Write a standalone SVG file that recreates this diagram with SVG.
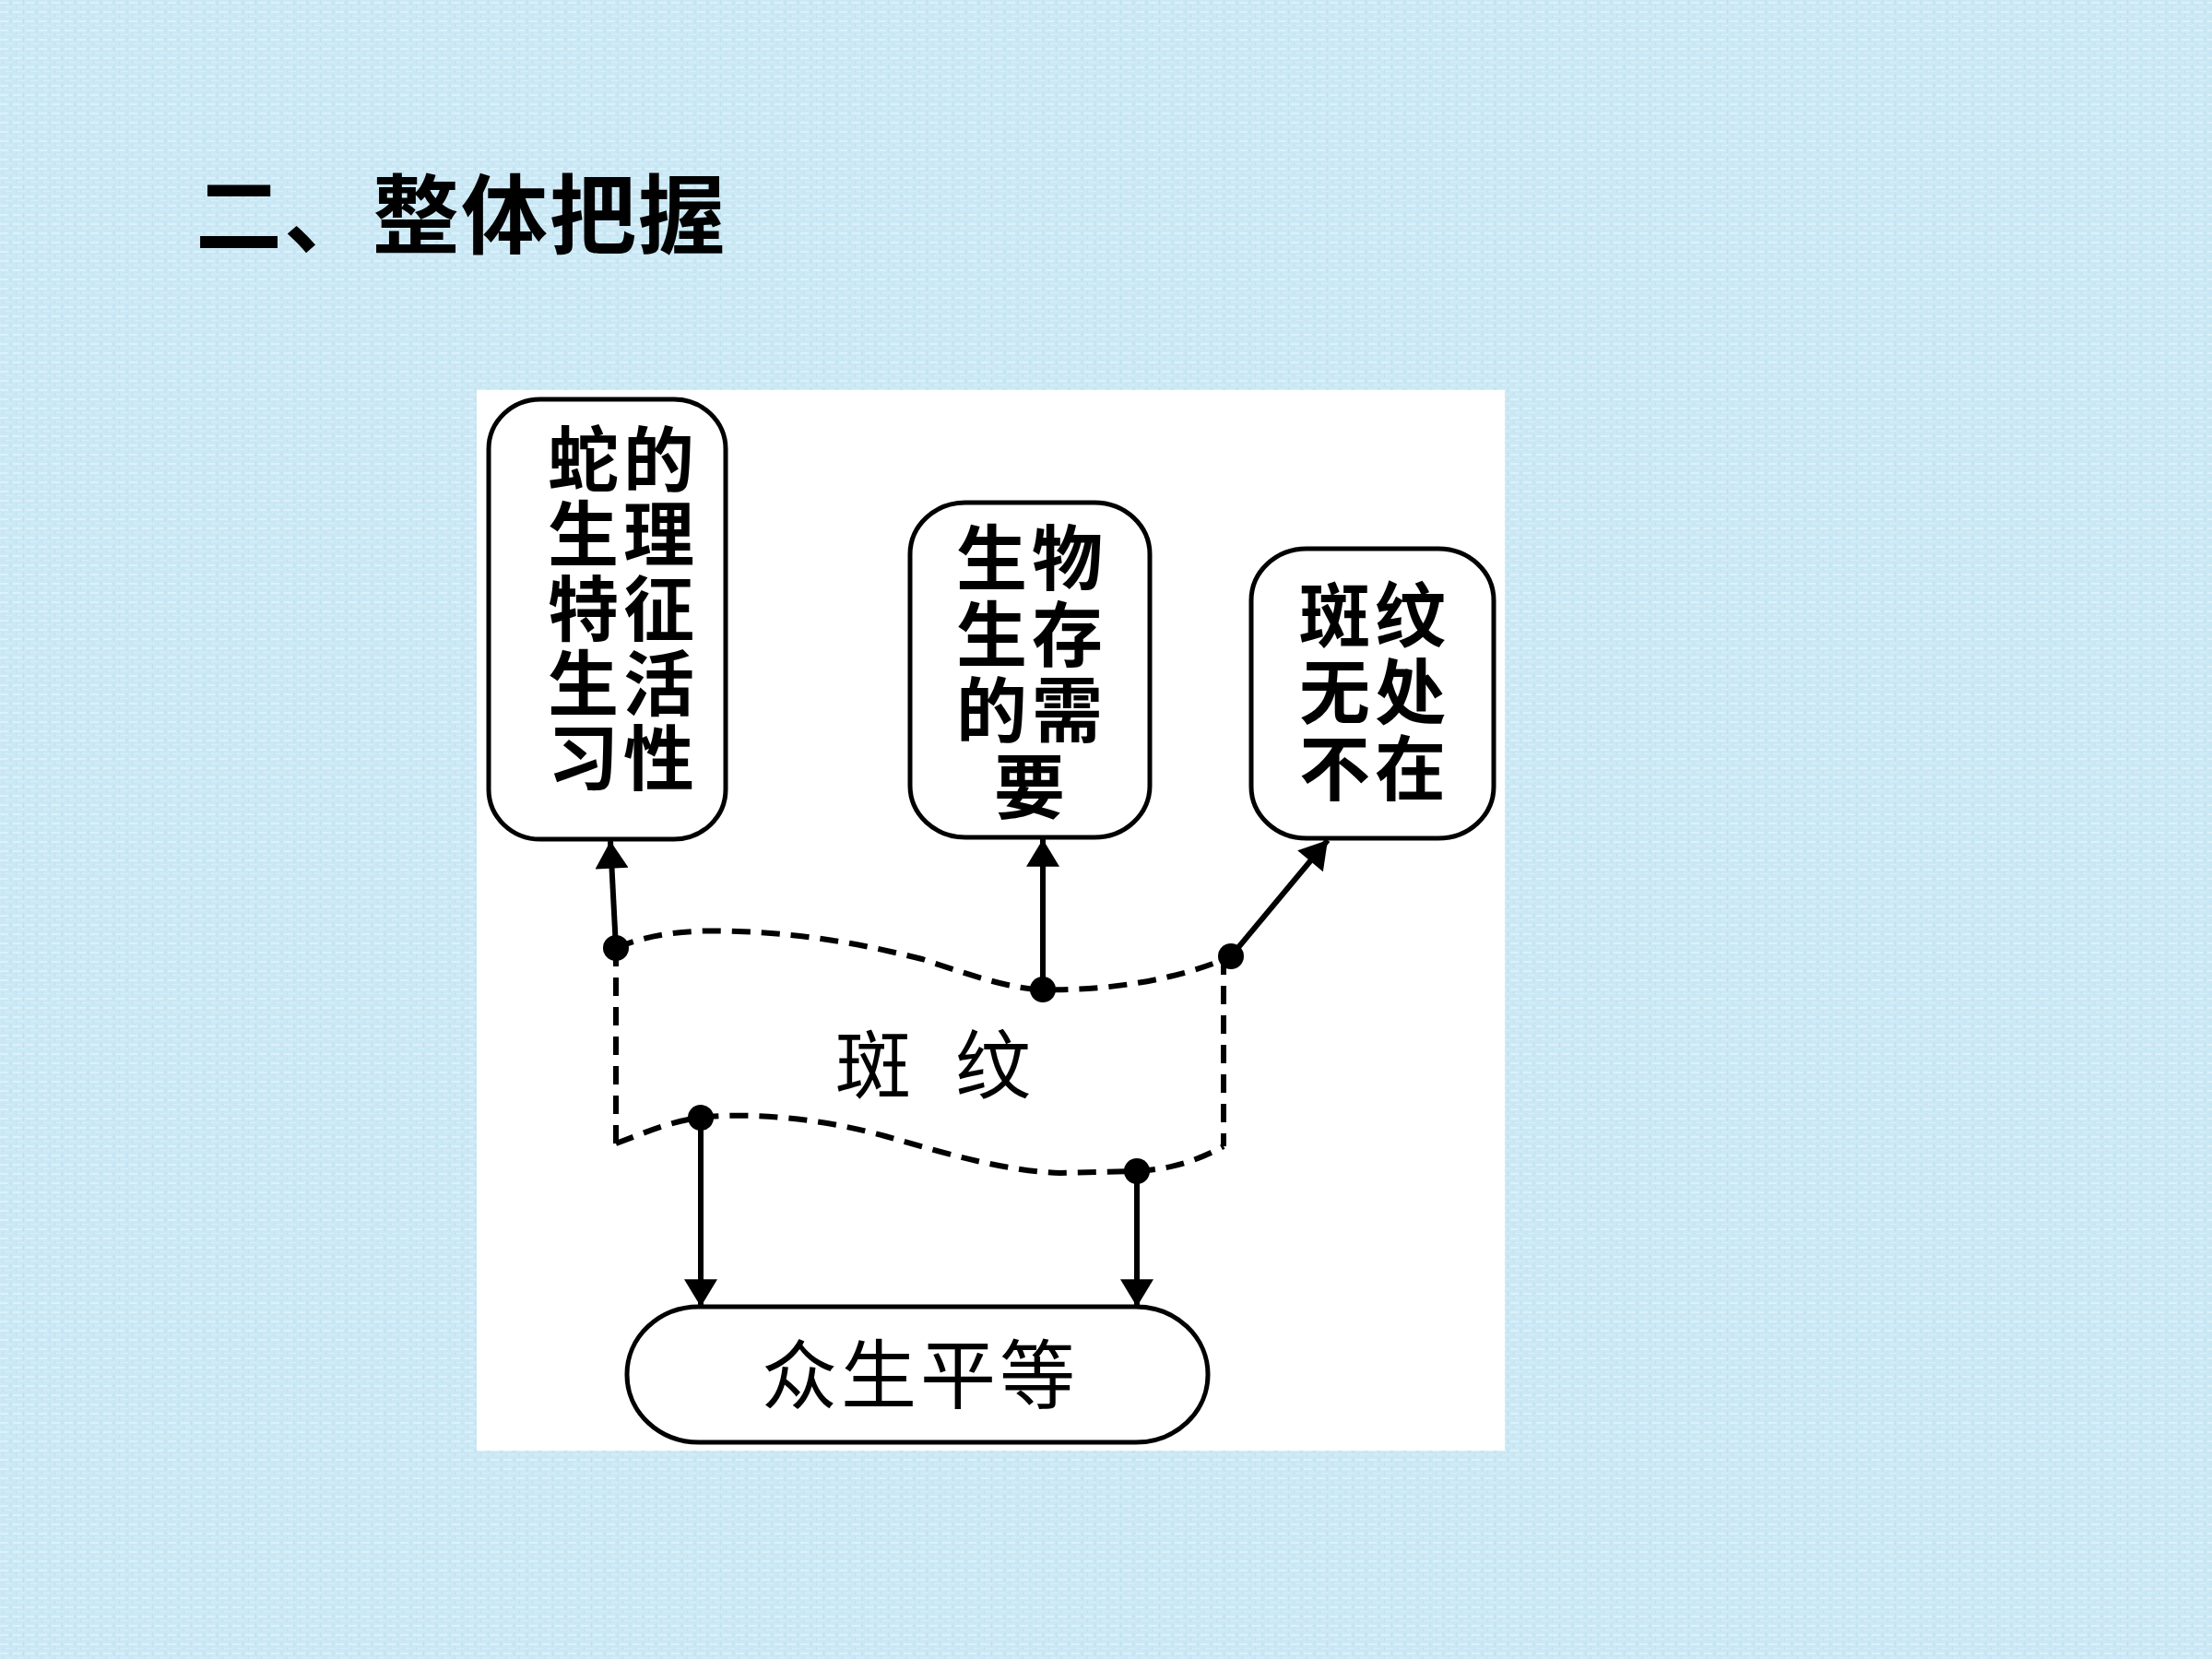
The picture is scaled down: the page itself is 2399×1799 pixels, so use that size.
<svg xmlns="http://www.w3.org/2000/svg" width="2399" height="1799" viewBox="0 0 2399 1799">
<style>
.box{fill:#ffffff;stroke:#000;stroke-width:5}
.bt{font-family:"Noto Sans CJK SC",sans-serif;font-weight:700;font-size:77px;letter-spacing:5px;fill:#000;text-anchor:middle}
.st{font-family:"Noto Sans CJK SC",sans-serif;font-weight:400;font-size:82px;fill:#000}
.title{font-family:"Noto Sans CJK SC",sans-serif;font-weight:700;font-size:94px;letter-spacing:2px;fill:#000}
.dash{fill:none;stroke:#000;stroke-width:6;stroke-dasharray:20 12}
.arr{fill:none;stroke:#000;stroke-width:6}
.dot{fill:#000}
</style>
<defs>
<pattern id="tex" width="14" height="10" patternUnits="userSpaceOnUse">
<rect width="14" height="10" fill="#cbe8f5"/>
<rect x="0" y="2" width="9" height="2" fill="#dcf1fa"/>
<rect x="5" y="7" width="8" height="1" fill="#d8eff9"/>
<rect x="11" y="0" width="1" height="6" fill="#bfe1f0"/>
<rect x="3" y="5" width="1" height="5" fill="#c3e3f2"/>
</pattern>
<marker id="ah" markerUnits="userSpaceOnUse" markerWidth="36" markerHeight="36" viewBox="0 0 28 34" refX="28" refY="17" orient="auto">
<path d="M0,0 L28,17 L0,34 Z" fill="#000"/>
</marker>
</defs>
<rect width="2399" height="1799" fill="url(#tex)"/>
<rect x="517" y="423" width="1115" height="1150" fill="#ffffff"/>
<g id="title"><text class="title" x="212" y="268">二、整体把握</text></g>
<g id="node-snake">
<rect class="box" x="530" y="433" width="257" height="477" rx="56" ry="54"/>
<text class="bt" x="676" y="527">蛇的<tspan x="676" dy="81">生理</tspan><tspan x="676" dy="81">特征</tspan><tspan x="676" dy="81">生活</tspan><tspan x="676" dy="81">习性</tspan></text>
</g>
<g id="node-need">
<rect class="box" x="987" y="545" width="260" height="363" rx="60" ry="56"/>
<text class="bt" x="1119" y="634">生物<tspan x="1119" dy="83">生存</tspan><tspan x="1119" dy="82">的需</tspan><tspan x="1119" dy="83">要</tspan></text>
</g>
<g id="node-everywhere">
<rect class="box" x="1357" y="595" width="263" height="314" rx="60" ry="56"/>
<text class="bt" x="1491" y="696">斑纹<tspan x="1491" dy="83">无处</tspan><tspan x="1491" dy="83">不在</tspan></text>
</g>
<g id="node-equal">
<rect class="box" x="680" y="1417" width="630" height="147" rx="78" ry="73"/>
<text class="st" x="998" y="1521" text-anchor="middle" letter-spacing="4">众生平等</text>
</g>
<g id="node-stripes">
<path class="dash" d="M668,1028 C710,1010 760,1008 800,1010 C880,1013 940,1025 1000,1040 C1060,1060 1100,1073 1131,1073 C1200,1075 1280,1062 1335,1037"/>
<path class="dash" d="M668,1240 C700,1228 730,1215 760,1212 C820,1205 900,1215 960,1232 C1030,1252 1090,1270 1150,1272 L1233,1270 C1270,1268 1300,1258 1327,1243"/>
<path class="dash" d="M668,1028 V1240"/>
<path class="dash" d="M1327,1037 V1243"/>
<text class="st"><tspan x="906" y="1185">斑</tspan> <tspan x="1036" y="1185">纹</tspan></text>
</g>
<g id="connectors">
<path class="arr" d="M668,1028 L662,912" marker-end="url(#ah)"/>
<path class="arr" d="M1131,1073 L1131,910" marker-end="url(#ah)"/>
<path class="arr" d="M1335,1037 L1440,911" marker-end="url(#ah)"/>
<path class="arr" d="M760,1212 L760,1417" marker-end="url(#ah)"/>
<path class="arr" d="M1233,1270 L1233,1417" marker-end="url(#ah)"/>
<circle class="dot" cx="668" cy="1028" r="14"/>
<circle class="dot" cx="1131" cy="1073" r="14"/>
<circle class="dot" cx="1335" cy="1037" r="14"/>
<circle class="dot" cx="760" cy="1212" r="14"/>
<circle class="dot" cx="1233" cy="1270" r="14"/>
</g>
</svg>
